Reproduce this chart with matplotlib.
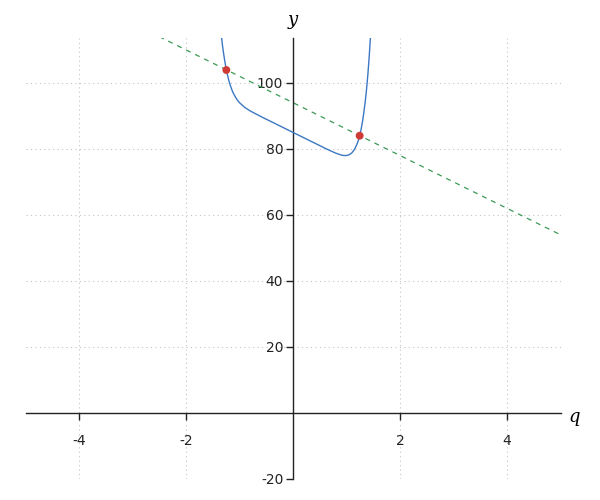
import matplotlib
matplotlib.use("Agg")
import matplotlib.pyplot as plt
import matplotlib.transforms as mtransforms

plt.rcParams["axes.unicode_minus"] = False

# blue curve, points
curve_x = [-1.34, -1.32, -1.30, -1.275, -1.25, -1.225, -1.20, -1.175, -1.15, -1.125,
           -1.10, -1.05, -1.0, -0.9, -0.8, -0.6, -0.4, -0.2, 0.0, 0.2, 0.4, 0.6,
           0.7, 0.8, 0.9, 0.95, 1.0, 1.05, 1.1, 1.15, 1.2, 1.225, 1.25, 1.275,
           1.30, 1.325, 1.35, 1.375, 1.40, 1.425, 1.45]
curve_y = [114.4, 111.6, 109.2, 106.6, 104.3, 102.4, 100.8, 99.4, 98.25, 97.2,
           96.4, 95.0, 94.0, 92.55, 91.5, 89.8, 88.2, 86.6, 85.0, 83.4, 81.8, 80.2,
           79.43, 78.71, 78.15, 78.0, 78.0, 78.23, 78.8, 79.85, 81.6, 82.8, 84.3, 86.1,
           88.4, 91.1, 94.3, 98.1, 102.7, 108.1, 114.5]

# green dashed line
line_x = [-2.5, 5.0]
line_y = [114.0, 54.0]

# red points
pts_x = [-1.246, 1.246]
pts_y = [103.9, 84.0]

x_ticks = [-4, -2, 2, 4]
y_ticks = [-20, 20, 40, 60, 80, 100]

fig = plt.figure(figsize=(6, 5), dpi=100)
ax = fig.add_axes([25.5 / 600, 1 - 479 / 500, 535 / 600, 441 / 500])

ax.plot(curve_x, curve_y, color="#3b78c3", linewidth=1.0, zorder=3)
ax.plot(line_x, line_y, color="#3a9a55", linewidth=0.9, linestyle=(0, (4, 4)), zorder=2)
ax.scatter(pts_x, pts_y, color="#d03a35", s=32, zorder=4, edgecolors="none")

ax.set_xlim(-5, 5)
ax.set_ylim(-20, 113.6)

ax.spines["left"].set_position(("data", 0))
ax.spines["bottom"].set_position(("data", 0))
ax.spines["right"].set_visible(False)
ax.spines["top"].set_visible(False)
for s in ("left", "bottom"):
    ax.spines[s].set_color("#222222")
    ax.spines[s].set_linewidth(1.0)

ax.set_xticks(x_ticks)
ax.set_yticks(y_ticks)
ax.set_xticklabels([str(v) for v in x_ticks])
ax.set_yticklabels([str(v) for v in y_ticks])
ax.tick_params(axis="both", direction="out", length=5, width=1, color="#222222",
               labelsize=10, labelcolor="#222222")
ax.tick_params(axis="x", pad=10)
ax.tick_params(axis="y", pad=2)

ax.grid(True, linestyle=(0, (1, 3)), color="#c4c4c4", linewidth=0.8)
ax.set_axisbelow(True)

ax.text(0.5, 1.04, "y", transform=ax.transAxes, ha="center", va="center",
        fontsize=13, family="DejaVu Serif", style="italic")
trans = mtransforms.blended_transform_factory(ax.transAxes, ax.transData)
ax.text(1.025, -1.2, "q", transform=trans, ha="center", va="center",
        fontsize=13, family="DejaVu Serif", style="italic")

fig.savefig("out.png", dpi=100)
